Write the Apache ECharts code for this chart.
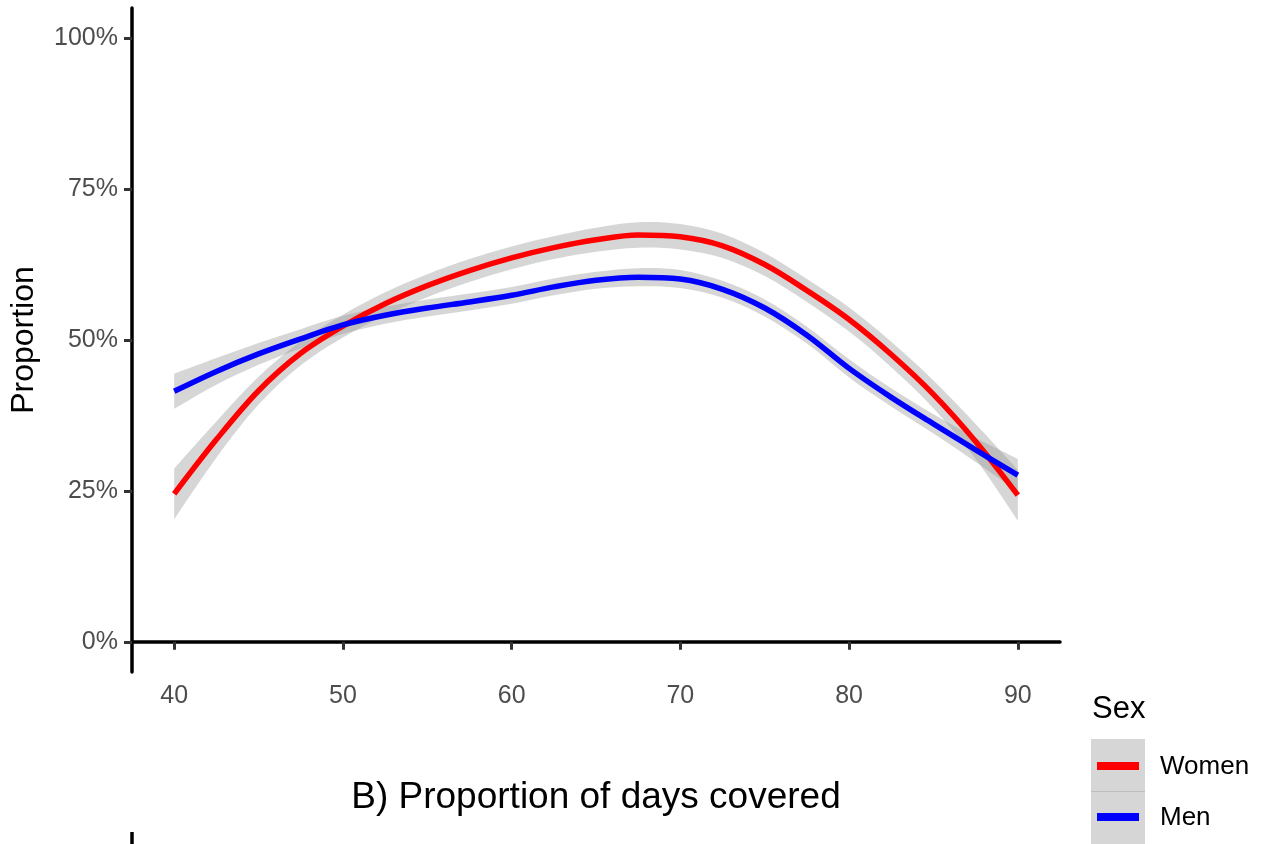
<!DOCTYPE html>
<html>
<head>
<meta charset="utf-8">
<script src="https://cdn.jsdelivr.net/npm/echarts@6/dist/echarts.min.js"></script>
<style>
  html, body { margin: 0; padding: 0; background: #fff; }
  #main { width: 1264px; height: 844px; }
</style>
</head>
<body>
<div id="main"></div>
<script>
// proportion of days covered (x) and smoothed proportion (%) with its band half-width
const pdc = [40, 42.5, 45, 47.5, 50, 52.5, 55, 57.5, 60, 62.5, 65, 67.5, 70, 72.5, 75, 77.5, 80, 82.5, 85, 87.5, 90];
const womenFit = [24.5, 33.5, 41.6, 47.8, 52.3, 56.0, 59.0, 61.5, 63.6, 65.3, 66.6, 67.4, 67.1, 65.6, 62.5, 58.2, 53.4, 47.6, 41.0, 33.2, 24.3];
const womenSe = [4.2, 3.0, 2.3, 2.0, 1.9, 1.9, 1.9, 1.9, 1.9, 1.9, 2.0, 2.1, 2.1, 2.0, 1.9, 1.9, 2.0, 2.1, 2.3, 2.9, 4.2];
const menFit = [41.5, 44.8, 47.7, 50.2, 52.5, 54.1, 55.3, 56.3, 57.4, 58.8, 59.9, 60.4, 60.1, 58.4, 55.3, 50.8, 45.3, 40.5, 36.1, 31.8, 27.6];
const menSe = [2.9, 2.2, 1.8, 1.6, 1.5, 1.4, 1.4, 1.4, 1.4, 1.4, 1.4, 1.5, 1.5, 1.4, 1.4, 1.4, 1.5, 1.5, 1.6, 2.0, 2.7];
const xTicks = [40, 50, 60, 70, 80, 90];
const yTicks = [0, 25, 50, 75, 100];
const groups = ['Women', 'Men'];

const FONT = '"Liberation Sans", Arial, sans-serif';
const bandFill = 'rgba(153,153,153,0.4)';

// bezier path through pixel points (catmull-rom style control points)
function curvePath(pts, k, first) {
  let d = first ? 'M' + pts[0][0] + ',' + pts[0][1] : 'L' + pts[0][0] + ',' + pts[0][1];
  for (let i = 0; i < pts.length - 1; i++) {
    const p0 = pts[Math.max(i - 1, 0)], p1 = pts[i], p2 = pts[i + 1], p3 = pts[Math.min(i + 2, pts.length - 1)];
    const c1 = [p1[0] + (p2[0] - p0[0]) * k, p1[1] + (p2[1] - p0[1]) * k];
    const c2 = [p2[0] - (p3[0] - p1[0]) * k, p2[1] - (p3[1] - p1[1]) * k];
    d += 'C' + c1[0] + ',' + c1[1] + ',' + c2[0] + ',' + c2[1] + ',' + p2[0] + ',' + p2[1];
  }
  return d;
}

// confidence ribbon: one closed path, drawn on the first item, points through api.coord
function bandSeries(name, fit, se) {
  const rows = pdc.map((x, i) => [x, fit[i] - se[i], fit[i] + se[i]]);
  return {
    name: name + ' band', type: 'custom', silent: true,
    data: rows,
    encode: { x: 0, y: [1, 2] },
    renderItem: function (params, api) {
      if (params.dataIndex !== 0) return null;
      const upper = rows.map(r => api.coord([r[0], r[2]]));
      const lower = rows.slice().reverse().map(r => api.coord([r[0], r[1]]));
      const d = curvePath(upper, 1 / 6, true) + curvePath(lower, 1 / 6, false) + 'Z';
      return { type: 'path', shape: { pathData: d }, style: { fill: bandFill, stroke: null } };
    }
  };
}

function fitSeries(name, fit, color) {
  return {
    name: name, type: 'line', data: pdc.map((x, i) => [x, fit[i]]),
    smooth: 0.35, symbol: 'none',
    lineStyle: { color: color, width: 5.5, cap: 'butt' }
  };
}

const chart = echarts.init(document.getElementById('main'));

const option = {
  animation: false,
  backgroundColor: '#fff',
  grid: { left: 132, right: 204, top: 8, bottom: 172 },
  xAxis: {
    type: 'value',
    min: 37.5,
    max: 92.5,
    name: 'B) Proportion of days covered',
    nameLocation: 'middle',
    nameGap: 107,
    nameTextStyle: { color: '#000', fontSize: 37, fontFamily: FONT },
    splitLine: { show: false },
    axisLine: { show: true, lineStyle: { color: '#000', width: 3.5 } },
    axisTick: { show: true, length: 8, customValues: xTicks, lineStyle: { color: '#333', width: 3 } },
    axisLabel: { customValues: xTicks, color: '#4d4d4d', fontSize: 25, fontFamily: FONT, margin: 12 }
  },
  yAxis: {
    type: 'value',
    min: -5,
    max: 105,
    name: 'Proportion',
    nameLocation: 'middle',
    nameGap: 92,
    nameTextStyle: { color: '#000', fontSize: 32, fontFamily: FONT },
    splitLine: { show: false },
    axisLine: { show: true, lineStyle: { color: '#000', width: 3.5 } },
    axisTick: { show: true, length: 8, customValues: yTicks, lineStyle: { color: '#333', width: 3 } },
    axisLabel: {
      customValues: yTicks, color: '#4d4d4d', fontSize: 25, fontFamily: FONT, margin: 14,
      formatter: v => v + '%'
    }
  },
  series: [
    bandSeries('Women', womenFit, womenSe),
    fitSeries('Women', womenFit, '#ff0000'),
    bandSeries('Men', menFit, menSe),
    fitSeries('Men', menFit, '#0000ff')
  ],
  graphic: [
    { type: 'text', left: 1092, top: 694, style: { text: 'Sex', fill: '#000', font: '31px ' + FONT } },
    { type: 'rect', shape: { x: 1091, y: 739, width: 54, height: 52 }, style: { fill: '#d6d6d6' } },
    { type: 'rect', shape: { x: 1091, y: 792, width: 54, height: 52 }, style: { fill: '#d6d6d6' } },
    { type: 'line', shape: { x1: 1091, y1: 791.5, x2: 1145, y2: 791.5 }, style: { stroke: '#bdbdbd', lineWidth: 1 } },
    { type: 'line', shape: { x1: 1097, y1: 766, x2: 1139, y2: 766 }, style: { stroke: '#ff0000', lineWidth: 8 } },
    { type: 'line', shape: { x1: 1097, y1: 817, x2: 1139, y2: 817 }, style: { stroke: '#0000ff', lineWidth: 8 } },
    { type: 'text', left: 1160, top: 754, style: { text: groups[0], fill: '#000', font: '26px ' + FONT } },
    { type: 'text', left: 1160, top: 805, style: { text: groups[1], fill: '#000', font: '26px ' + FONT } },
    // start of the next panel's axis at the bottom edge
    { type: 'line', shape: { x1: 132, y1: 832, x2: 132, y2: 844 }, style: { stroke: '#000', lineWidth: 3.5 } }
  ]
};

chart.setOption(option);
</script>
</body>
</html>
